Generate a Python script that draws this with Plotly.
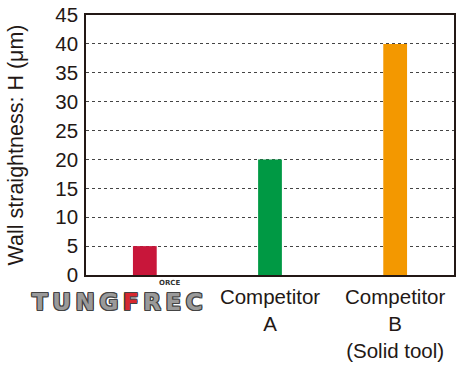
import plotly.graph_objects as go

# Wall straightness per tool
categories = ["TungForceRec", "Competitor A", "Competitor B"]
values = [5, 20, 40]
tick_labels = ["", "Competitor<br>A", "Competitor<br>B<br>(Solid tool)"]
bar_colors = ["#c8163a", "#009944", "#f39800"]
y_ticks = [0, 5, 10, 15, 20, 25, 30, 35, 40, 45]

FONT = "Liberation Sans, Arial, sans-serif"
OUTLINE = ("1px 0 0 #444, -1px 0 0 #444, 0 1px 0 #444, 0 -1px 0 #444, "
           "1px 1px 0 #444, -1px -1px 0 #444, 1px -1px 0 #444, -1px 1px 0 #444")
TS = "\u2009"  # thin space used to widen the wordmark

fig = go.Figure(
    go.Bar(
        x=categories,
        y=values,
        marker=dict(color=bar_colors, line=dict(width=0)),
        width=0.19,
    )
)

fig.update_layout(
    width=459,
    height=365,
    margin=dict(l=86, r=3, t=13, b=88),
    paper_bgcolor="white",
    plot_bgcolor="white",
    showlegend=False,
    font=dict(family=FONT, color="#231815", size=20),
    xaxis=dict(
        type="category",
        range=[-0.47, 2.47],
        tickvals=categories,
        ticktext=tick_labels,
        tickfont=dict(size=20.5, color="#231815"),
        showline=True,
        linecolor="#231815",
        linewidth=1.5,
        mirror=True,
        showgrid=False,
        ticks="",
        ticklabelstandoff=3,
    ),
    yaxis=dict(
        range=[0, 45],
        tickvals=y_ticks,
        tickfont=dict(size=20.5, color="#231815"),
        showline=True,
        linecolor="#231815",
        linewidth=1.5,
        mirror=True,
        showgrid=True,
        gridcolor="#444444",
        gridwidth=1,
        griddash="dot",
        zeroline=False,
        ticks="",
        ticklabelstandoff=2,
        title=dict(
            text="Wall straightness: H (μm)",
            font=dict(size=21.5, color="#231815"),
            standoff=26,
        ),
    ),
)

# Brand wordmark under the first bar
fig.add_annotation(
    xref="x", yref="paper", x=-0.22, y=-0.045,
    xanchor="center", yanchor="top", showarrow=False,
    text=("<b><span style='color:#9a9a9a'>" + TS.join("TUNG") + TS + "</span>"
          "<span style='color:#d7282f'>F</span>"
          "<span style='color:#9a9a9a'>" + TS + TS.join("REC") + "</span></b>"),
    font=dict(family="DejaVu Sans, sans-serif", size=23, shadow=OUTLINE),
)
fig.add_annotation(
    xref="x", yref="paper", x=0.2, y=-0.008,
    xanchor="center", yanchor="top", showarrow=False,
    text="<b>ORCE</b>",
    font=dict(family="DejaVu Sans, sans-serif", size=7, color="#333333"),
)

fig.write_html("out.html")
